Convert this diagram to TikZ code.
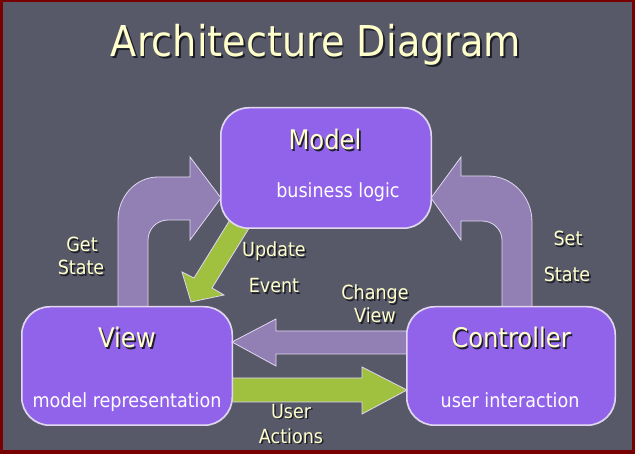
\documentclass[tikz,border=0pt]{standalone}
\usepackage{fontspec}
\setmainfont{DejaVu Sans Condensed}
\usetikzlibrary{calc}
\definecolor{bg}{RGB}{87,89,104}
\definecolor{framered}{RGB}{120,0,0}
\definecolor{boxfill}{RGB}{145,99,235}
\definecolor{arrpurple}{RGB}{146,128,180}
\definecolor{arrgreen}{RGB}{160,192,64}
\definecolor{cream}{RGB}{255,255,204}
\definecolor{edgecol}{RGB}{225,215,240}
\definecolor{shadowcol}{RGB}{30,30,40}
\newcommand\sh[1]{\rlap{\kern1.6pt\raisebox{-1.6pt}{\color{shadowcol}#1}}#1}
\begin{document}
\begin{tikzpicture}[x=1pt,y=-1pt,
  box/.style={draw=edgecol, line width=1pt, fill=boxfill, rounded corners=28pt,
    minimum width=210pt, minimum height=120pt, inner sep=0pt},
  blockarrow/.style={draw=edgecol, line width=0.8pt, line join=miter},
  lbl/.style={text=cream, inner sep=0pt, anchor=base, font=\fontsize{19.5}{22}\selectfont},
  head/.style={text=cream, inner sep=0pt, anchor=base, font=\fontsize{27}{32}\selectfont},
  sub/.style={text=white, inner sep=0pt, anchor=base, font=\fontsize{19.5}{22}\selectfont},
  ttl/.style={text=cream, inner sep=0pt, anchor=base, font=\fontsize{42.5}{50}\selectfont}]
\useasboundingbox (0,0) rectangle (635,454);
\fill[framered] (0,0) rectangle (635,454);
\fill[bg] (3,2) rectangle (632,450);

% title
\node[ttl] (title) at (316,57) {\sh{Architecture Diagram}};

% green Update Event arrow (under model box)
\fill[arrgreen, blockarrow] (233,215) -- (251,225) -- (212,288) -- (224,295)
  -- (191,302) -- (182,272) -- (194,278) -- cycle;

% boxes
\node[box] (model) at (326,168) {};
\node[box, minimum height=118pt] (view) at (127,366) {};
\node[box, minimum width=208pt, minimum height=118pt] (ctrl) at (511,366) {};

% Get State arrow
\fill[arrpurple, blockarrow] (118,306) -- (118,220) arc[start angle=180, end angle=90, x radius=40, y radius=-43]
  -- (190,177) -- (190,157) -- (221,198) -- (190,240) -- (190,220) -- (168,220)
  arc[start angle=90, end angle=180, x radius=20, y radius=-20] -- (148,306);

% Set State arrow
\fill[arrpurple, blockarrow] (532,306) -- (532,222) arc[start angle=0, end angle=90, x radius=44, y radius=-46]
  -- (461,176) -- (461,157) -- (431,198) -- (461,240) -- (461,221) -- (482,221)
  arc[start angle=90, end angle=0, x radius=20, y radius=-19] -- (502,306);

% Change View arrow
\fill[arrpurple, blockarrow] (ctrl.west |- 0,331) -- (276,331) -- (276,319)
  -- (232,342) -- (276,366) -- (276,354) -- (ctrl.west |- 0,354);

% User Actions arrow
\fill[arrgreen, blockarrow] (view.east |- 0,378) -- (362,378) -- (362,367)
  -- (407,390) -- (362,414) -- (362,402) -- (view.east |- 0,402);

% redraw box edges over arrow ends
\draw[draw=edgecol, line width=1pt, rounded corners=28pt] (model.south west) rectangle (model.north east);
\draw[draw=edgecol, line width=1pt, rounded corners=28pt] (view.south west) rectangle (view.north east);
\draw[draw=edgecol, line width=1pt, rounded corners=28pt] (ctrl.south west) rectangle (ctrl.north east);

% box texts
\node[head] (modelT) at (325,150) {\sh{Model}};
\node[sub] (modelS) at (338,198) {business logic};
\node[head] (viewT) at (127,348) {\sh{View}};
\node[sub] (viewS) at (127,407) {model representation};
\node[head] (ctrlT) at (511,348) {\sh{Controller}};
\node[sub] (ctrlS) at (510,407) {user interaction};

% labels
\node[lbl] (get) at (82,252) {\sh{Get}};
\node[lbl] (getstate) at (81,275) {\sh{State}};
\node[lbl] (set) at (568,246) {\sh{Set}};
\node[lbl] (setstate) at (567,282) {\sh{State}};
\node[lbl] (upd) at (274,257) {\sh{Update}};
\node[lbl] (evt) at (274,293) {\sh{Event}};
\node[lbl] (chg) at (375,300) {\sh{Change}};
\node[lbl] (chgview) at (375,323) {\sh{View}};
\node[lbl] (usr) at (291,418) {\sh{User}};
\node[lbl] (act) at (291,443) {\sh{Actions}};
\end{tikzpicture}
\end{document}
